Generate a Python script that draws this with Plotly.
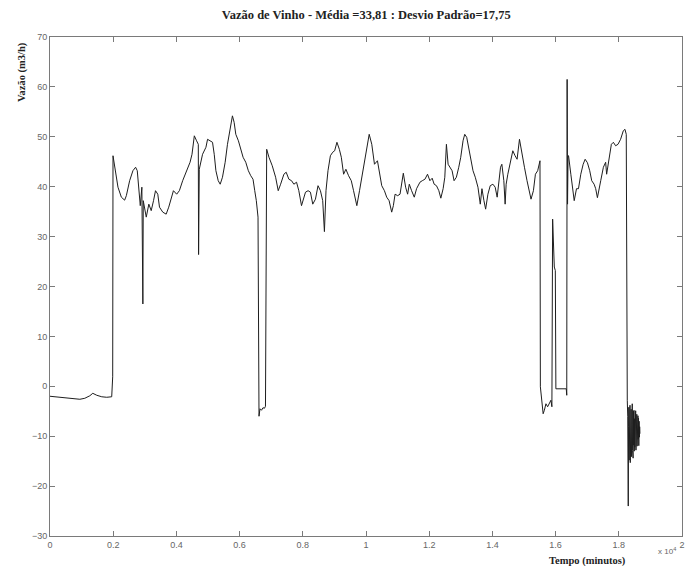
import plotly.graph_objects as go

# Tempo (minutos) and Vazão (m3/h)
tempo_min = [
    0, 157, 315, 472, 630, 787, 945, 1102, 1260, 1354, 1480, 1638, 1795, 1953,
    1984, 1994, 2047, 2151, 2258, 2362, 2416, 2520, 2624, 2709, 2762, 2813, 2857,
    2907, 2939, 2951, 3046, 3128, 3203, 3276, 3339, 3411, 3465, 3569, 3676, 3757,
    3833, 3906, 4009, 4094, 4198, 4283, 4356, 4432, 4494, 4567, 4639, 4693, 4702,
    4724, 4828, 4935, 4986, 5061, 5143, 5197, 5250, 5323, 5386, 5458, 5543, 5616,
    5691, 5773, 5827, 5880, 5962, 6038, 6110, 6195, 6277, 6353, 6425, 6479, 6529,
    6583, 6598, 6614, 6646, 6693, 6740, 6787, 6819, 6835, 6850, 6857, 6929, 7033,
    7140, 7222, 7298, 7402, 7474, 7559, 7644, 7717, 7802, 7874, 7959, 8031, 8085,
    8167, 8242, 8315, 8400, 8482, 8558, 8630, 8684, 8734, 8797, 8873, 8945, 9008,
    9080, 9156, 9219, 9291, 9364, 9449, 9534, 9606, 9710, 9795, 9890, 9975, 10047,
    10101, 10183, 10268, 10362, 10425, 10498, 10583, 10655, 10731, 10813, 10866,
    10920, 11002, 11077, 11181, 11254, 11317, 11370, 11443, 11528, 11600, 11707,
    11780, 11865, 11947, 12022, 12094, 12157, 12230, 12305, 12368, 12441, 12494,
    12545, 12598, 12652, 12724, 12787, 12860, 12935, 12998, 13071, 13124, 13187,
    13250, 13313, 13386, 13458, 13543, 13616, 13669, 13732, 13786, 13858, 13931,
    14016, 14088, 14151, 14257, 14299, 14362, 14403, 14435, 14488, 14573, 14646,
    14718, 14781, 14857, 14929, 15014, 15096, 15172, 15222, 15298, 15361, 15433,
    15506, 15518, 15591, 15606, 15644, 15694, 15748, 15801, 15852, 15883, 15906,
    15959, 15991, 16009, 16157, 16337, 16353, 16365, 16378, 16394, 16410, 16482,
    16535, 16589, 16661, 16724, 16797, 16872, 16935, 17008, 17080, 17143, 17219,
    17269, 17323, 17376, 17428, 17512, 17584, 17615, 17691, 17765, 17828, 17899,
    17975, 18057, 18142, 18195, 18236, 18246, 18268, 18283, 18299, 18309,
    18318, 18327, 18336, 18345, 18354, 18363, 18372, 18381, 18390, 18399, 18408,
    18417, 18426, 18435, 18444, 18453, 18462, 18471, 18480, 18489, 18498, 18507,
    18516, 18525, 18534, 18543, 18552, 18561, 18570, 18579, 18588, 18597, 18606,
    18615, 18624, 18633, 18642, 18651, 18660, 18669,
]

vazao_m3h = [
    -2.0, -2.1, -2.1, -2.2, -2.3, -2.5, -2.6, -2.4, -1.9, -1.4, -1.8, -2.1, -2.2, -2.1,
    1.9, 46.2, 43.9, 39.9, 37.9, 37.3, 38.2, 41.2, 43.2, 43.9, 43.2, 39.9, 36.2,
    39.9, 16.5, 37.2, 33.9, 36.5, 35.2, 37.2, 39.2, 38.5, 35.9, 34.9, 34.5, 35.9,
    37.5, 39.2, 38.5, 39.2, 41.2, 42.5, 43.9, 44.9, 46.5, 50.2, 49.2, 48.5, 26.4,
    43.5, 46.5, 47.9, 49.5, 49.2, 48.9, 46.5, 43.2, 41.2, 40.5, 41.9, 44.9, 48.5,
    51.5, 54.2, 52.9, 50.5, 49.2, 47.5, 45.9, 44.9, 43.2, 42.2, 41.5, 39.2, 37.2,
    33.9, 20.0, -6.0, -4.5, -4.8, -4.3, -4.4, -4.0, 20.0, 45.0, 47.5, 45.9, 44.2,
    41.9, 39.2, 40.5, 42.5, 42.9, 41.5, 41.2, 40.5, 40.9, 39.2, 36.2, 37.9, 38.9,
    39.2, 38.9, 36.5, 37.5, 40.2, 39.2, 37.2, 31.0, 39.2, 43.2, 46.2, 46.9, 47.2,
    48.9, 47.5, 45.9, 42.5, 43.5, 42.2, 41.2, 39.2, 36.2, 39.2, 42.5, 45.9, 48.5,
    50.5, 48.5, 44.5, 45.2, 43.2, 40.2, 39.2, 37.9, 37.2, 34.9, 36.2,
    38.5, 38.2, 38.5, 42.7, 39.9, 38.5, 40.5, 39.2, 37.9, 39.6, 40.9,
    41.2, 41.5, 42.5, 41.2, 41.7, 40.5, 40.2, 39.2, 37.7, 39.6, 41.9,
    48.5, 44.5, 43.9, 43.2, 41.2, 41.9, 43.9, 45.9, 49.2, 50.5, 49.9,
    47.5, 45.9, 43.2, 41.9, 39.9, 36.5, 39.6, 37.2, 35.5, 38.5, 40.2,
    40.5, 39.9, 37.9, 43.9, 44.5, 41.2, 36.5, 40.5, 42.5, 44.9, 47.2,
    46.2, 45.5, 49.5, 46.5, 43.9, 41.2, 39.2, 37.5, 39.2, 42.5, 43.2,
    45.2, -0.1, -4.1, -5.5, -4.8, -3.5, -4.1, -3.5, -2.8, -4.1, 33.5,
    23.9, 23.2, -0.5, -0.5, -0.5, -1.8, 61.5, 36.5, 46.2, 46.2, 42.5,
    39.2, 37.2, 39.6, 39.6, 42.5, 44.5, 45.5, 44.8, 43.2, 41.2, 40.5,
    39.6, 37.8, 39.9, 41.2, 43.9, 44.9, 42.5, 45.2, 48.5, 48.9, 48.2,
    48.5, 49.5, 51.2, 51.5, 50.5, -0.1, -2.8, -6.0, -24.0, -8.0,
    -4.2, -14.8, -5.1, -13.2, -3.8, -15.3, -6.0, -12.5, -4.6, -14.1, -5.5,
    -13.6, -3.5, -12.9, -6.2, -14.4, -5.0, -11.8, -4.8, -13.0, -6.5, -12.2,
    -5.2, -11.5, -4.9, -12.8, -6.1, -10.9, -5.6, -12.0, -6.8, -11.4, -5.9,
    -10.6, -6.4, -11.9, -7.0, -10.2, -8.1, -9.5,
]

x_tickvals = [0, 2000, 4000, 6000, 8000, 10000, 12000, 14000, 16000, 18000, 20000]
x_ticktext = ["0", "0.2", "0.4", "0.6", "0.8", "1", "1.2", "1.4", "1.6", "1.8", "2"]
y_tickvals = [-30, -20, -10, 0, 10, 20, 30, 40, 50, 60, 70]

titulo = "Vazão de Vinho - Média =33,81 : Desvio Padrão=17,75"

fig = go.Figure()
fig.add_trace(go.Scatter(
    x=tempo_min, y=vazao_m3h, mode="lines",
    line=dict(color="#1e1e1e", width=1),
    showlegend=False, hoverinfo="skip",
))

axis_common = dict(
    showline=True, linecolor="#7a7a7a", linewidth=1, mirror="ticks",
    ticks="inside", ticklen=5, tickcolor="#7a7a7a", tickwidth=1,
    showgrid=False, zeroline=False,
    tickfont=dict(family="Liberation Sans Narrow, Liberation Sans, Arial", size=9, color="#666666"),
)

fig.update_xaxes(range=[0, 20000], tickvals=x_tickvals, ticktext=x_ticktext, **axis_common)
fig.update_yaxes(range=[-30, 70], tickvals=y_tickvals, **axis_common)

fig.update_layout(
    width=695, height=566,
    margin=dict(l=50, r=10, t=37, b=30),
    paper_bgcolor="white", plot_bgcolor="white",
    title=dict(text="<b>" + titulo + "</b>", x=0.527, xanchor="center",
               y=1 - 15 / 566, yanchor="middle", xref="container", yref="container",
               font=dict(family="Liberation Serif, Times New Roman", size=12.5, color="#222222")),
    annotations=[
        dict(text="<b>Vazão (m3/h)</b>", xref="paper", yref="paper",
             x=-0.044, y=0.93, textangle=-90, showarrow=False,
             xanchor="center", yanchor="middle",
             font=dict(family="Liberation Serif, Times New Roman", size=10.5, color="#222222")),
        dict(text="<b>Tempo (minutos)</b>", xref="paper", yref="paper",
             x=0.85, y=-0.05, showarrow=False, xanchor="center", yanchor="middle",
             font=dict(family="Liberation Serif, Times New Roman", size=10.5, color="#222222")),
        dict(text="x 10<sup>4</sup>", xref="paper", yref="paper",
             x=0.976, y=-0.03, showarrow=False, xanchor="center", yanchor="middle",
             font=dict(family="Liberation Sans Narrow, Liberation Sans, Arial", size=8, color="#666666")),
    ],
)

fig.write_html("out.html")
